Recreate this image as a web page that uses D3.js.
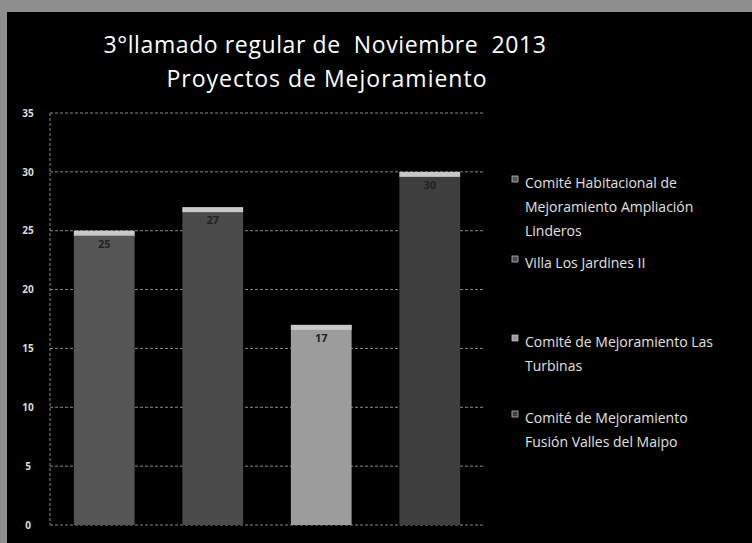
<!DOCTYPE html>
<html lang="es">
<head>
<meta charset="utf-8">
<style>
  body { margin: 0; background: #000; }
  text { font-family: "Open Sans", "DejaVu Sans", sans-serif; }
  .title { white-space: pre; }
</style>
</head>
<body>
<script src="https://d3js.org/d3.v7.min.js"></script>
<script>
// data
var categories = ["Comité Habitacional de Mejoramiento Ampliación Linderos",
                  "Villa Los Jardines II",
                  "Comité de Mejoramiento Las Turbinas",
                  "Comité de Mejoramiento Fusión Valles del Maipo"];
var values = [25, 27, 17, 30];
var barColors = ["#555555", "#4a4a4a", "#9c9c9c", "#3e3e3e"];
var yTicks = [0, 5, 10, 15, 20, 25, 30, 35];
var legendLines = [
  ["Comité Habitacional de", "Mejoramiento Ampliación", "Linderos"],
  ["Villa Los Jardines II"],
  ["Comité de Mejoramiento Las", "Turbinas"],
  ["Comité de Mejoramiento", "Fusión Valles del Maipo"]
];
var legendY = [183, 263, 342, 418];

var width = 752, height = 543;
var svg = d3.select("body").append("svg")
  .attr("width", width).attr("height", height);

// scanned page border
svg.append("rect").attr("width", width).attr("height", height).attr("fill", "#8e8e8e");
svg.append("rect").attr("x", 7).attr("y", 12).attr("width", width - 7).attr("height", height - 12).attr("fill", "#000");

// title
svg.append("text").attr("class", "title").attr("x", 325).attr("y", 53).attr("text-anchor", "middle")
  .attr("fill", "#fff").attr("font-size", 23).attr("letter-spacing", 0.6)
  .text("3°llamado regular de  Noviembre  2013");
svg.append("text").attr("class", "title").attr("x", 327).attr("y", 87).attr("text-anchor", "middle")
  .attr("fill", "#fff").attr("font-size", 23).attr("letter-spacing", 1)
  .text("Proyectos de Mejoramiento");

var x = d3.scaleBand().domain(categories).range([50, 484])
  .paddingInner(0.44).paddingOuter(0.22);
var y = d3.scaleLinear().domain([0, 35]).range([525, 113]);

// gridlines
svg.append("g").selectAll("line").data(yTicks).join("line")
  .attr("x1", 50).attr("x2", 484)
  .attr("y1", function (d) { return y(d); }).attr("y2", function (d) { return y(d); })
  .attr("stroke", "#8a8a8a").attr("stroke-width", 1).attr("stroke-dasharray", "3,2");
svg.append("line").attr("x1", 50).attr("x2", 50).attr("y1", y(35)).attr("y2", y(0))
  .attr("stroke", "#8a8a8a").attr("stroke-dasharray", "3,2");

// y axis labels
var yAxis = d3.axisLeft(y).tickValues(yTicks).tickSize(0).tickPadding(0);
var ag = svg.append("g").attr("transform", "translate(34,0)").call(yAxis);
ag.select(".domain").remove();
ag.selectAll("text").attr("fill", "#ddd").attr("font-size", 10).attr("font-weight", "bold")
  .attr("text-anchor", "middle").attr("x", -6);

// bars
var bars = svg.append("g").selectAll("g").data(values).join("g");
bars.append("rect")
  .attr("x", function (d, i) { return x(categories[i]); })
  .attr("y", function (d) { return y(d); })
  .attr("width", x.bandwidth())
  .attr("height", function (d) { return y(0) - y(d); })
  .attr("fill", function (d, i) { return barColors[i]; });
bars.append("rect")
  .attr("x", function (d, i) { return x(categories[i]); })
  .attr("y", function (d) { return y(d); })
  .attr("width", x.bandwidth())
  .attr("height", 5)
  .attr("fill", "#c8c8c8");
bars.append("text")
  .attr("x", function (d, i) { return x(categories[i]) + x.bandwidth() / 2; })
  .attr("y", function (d) { return y(d) + 17; })
  .attr("text-anchor", "middle").attr("font-size", 11).attr("font-weight", "bold")
  .attr("fill", "#222").text(function (d) { return d; });

// legend
var lg = svg.append("g").selectAll("g").data(legendLines).join("g");
lg.append("rect")
  .attr("x", 512).attr("y", function (d, i) { return legendY[i] - 7; })
  .attr("width", 6).attr("height", 6)
  .attr("fill", function (d, i) { return barColors[i]; })
  .attr("stroke", "#bbb").attr("stroke-width", 0.8);
lg.each(function (d, i) {
  d3.select(this).selectAll("text").data(d).join("text")
    .attr("x", 525).attr("y", function (t, j) { return legendY[i] + 5 + j * 24; })
    .attr("fill", "#e0e0e0").attr("font-size", 14)
    .text(function (t) { return t; });
});
</script>
</body>
</html>
